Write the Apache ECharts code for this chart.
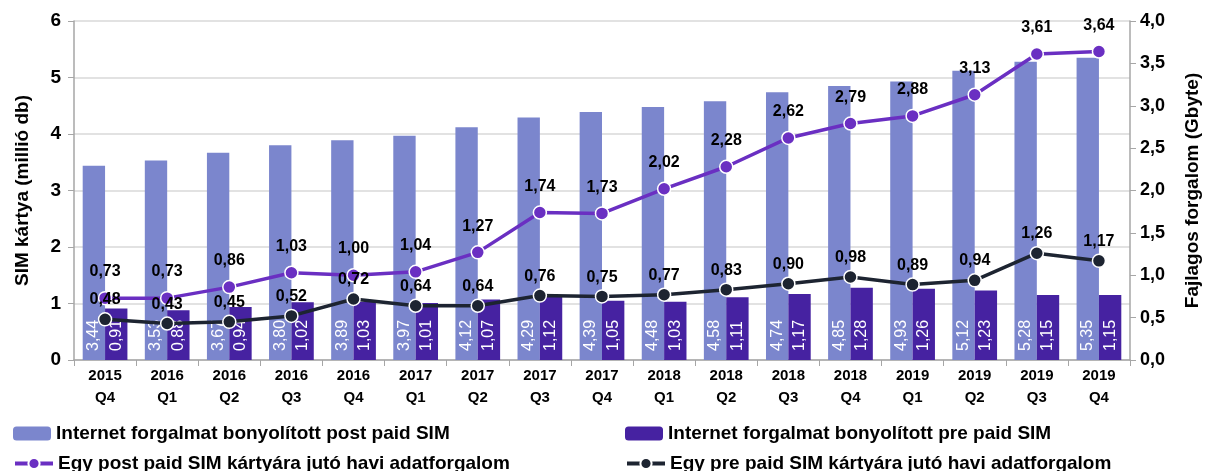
<!DOCTYPE html>
<html><head><meta charset="utf-8">
<script src="https://cdn.jsdelivr.net/npm/echarts@6/dist/echarts.min.js"></script>
<style>html,body{margin:0;padding:0;background:#fff}#c{width:1209px;height:471px}</style>
</head><body><div id="c"></div>
<script>
const categories = ['2015\nQ4','2016\nQ1','2016\nQ2','2016\nQ3','2016\nQ4','2017\nQ1','2017\nQ2','2017\nQ3','2017\nQ4','2018\nQ1','2018\nQ2','2018\nQ3','2018\nQ4','2019\nQ1','2019\nQ2','2019\nQ3','2019\nQ4'];
const postPaidSim = [3.44,3.53,3.67,3.80,3.89,3.97,4.12,4.29,4.39,4.48,4.58,4.74,4.85,4.93,5.12,5.28,5.35];
const prePaidSim = [0.91,0.88,0.94,1.02,1.03,1.01,1.07,1.12,1.05,1.03,1.11,1.17,1.28,1.26,1.23,1.15,1.15];
const postPaidTraffic = [0.73,0.73,0.86,1.03,1.00,1.04,1.27,1.74,1.73,2.02,2.28,2.62,2.79,2.88,3.13,3.61,3.64];
const prePaidTraffic = [0.48,0.43,0.45,0.52,0.72,0.64,0.64,0.76,0.75,0.77,0.83,0.90,0.98,0.89,0.94,1.26,1.17];
const leftTicks = [0,1,2,3,4,5,6];
const rightTicks = ['0,0','0,5','1,0','1,5','2,0','2,5','3,0','3,5','4,0'];

const FONT = 'Liberation Sans, Arial, sans-serif';
const C_POST_BAR = '#7b86cd', C_PRE_BAR = '#4622a1', C_POST_LINE = '#6a2fc2', C_PRE_LINE = '#1d2431';
const fmt2 = v => v.toFixed(2).replace('.', ',');
const legendText = {fontFamily: FONT, fontSize: 19, fontWeight: 'bold', color: '#000'};

const chart = echarts.init(document.getElementById('c'));
chart.setOption({
  animation: false,
  textStyle: {fontFamily: FONT},
  grid: {left: 74, right: 79, top: 21, bottom: 111, outerBoundsMode: 'none', containLabel: false},
  legend: [
    {data: ['Internet forgalmat bonyolított post paid SIM'], left: 8, top: 419, itemWidth: 38, itemHeight: 14, textStyle: legendText},
    {data: ['Internet forgalmat bonyolított pre paid SIM'], left: 620, top: 419, itemWidth: 38, itemHeight: 14, textStyle: legendText},
    {data: ['Egy post paid SIM kártyára jutó havi adatforgalom'], left: 8, top: 449, itemWidth: 38, itemHeight: 14, textStyle: legendText, lineStyle: {width: 4}},
    {data: ['Egy pre paid SIM kártyára jutó havi adatforgalom'], left: 620, top: 449, itemWidth: 38, itemHeight: 14, textStyle: legendText, lineStyle: {width: 4}}
  ],
  xAxis: {
    type: 'category', data: categories,
    axisLine: {lineStyle: {color: '#a6a6a6', width: 1.5}},
    axisTick: {show: true, length: 6, lineStyle: {color: '#a6a6a6'}},
    axisLabel: {color: '#000', fontFamily: FONT, fontSize: 15, fontWeight: 'bold', lineHeight: 22, margin: 5, interval: 0}
  },
  yAxis: [
    {
      type: 'value', min: 0, max: 6, interval: 1,
      name: 'SIM kártya (millió db)', nameLocation: 'middle', nameGap: 42, nameRotate: 90,
      nameTextStyle: {color: '#000', fontFamily: FONT, fontSize: 19, fontWeight: 'bold'},
      axisLine: {show: true, lineStyle: {color: '#a6a6a6', width: 1.5}},
      axisTick: {show: true, length: 6, lineStyle: {color: '#a6a6a6'}},
      splitLine: {lineStyle: {color: '#d9d9d9', width: 1.5}},
      axisLabel: {color: '#000', fontFamily: FONT, fontSize: 19, fontWeight: 'bold', margin: 13,
        formatter: v => String(leftTicks[Math.round(v)])}
    },
    {
      type: 'value', min: 0, max: 4, interval: 0.5, position: 'right',
      name: 'Fajlagos forgalom (Gbyte)', nameLocation: 'middle', nameGap: 53, nameRotate: 90,
      nameTextStyle: {color: '#000', fontFamily: FONT, fontSize: 19, fontWeight: 'bold'},
      axisLine: {show: true, lineStyle: {color: '#a6a6a6', width: 1.5}},
      axisTick: {show: true, length: 6, lineStyle: {color: '#a6a6a6'}},
      splitLine: {show: false},
      axisLabel: {color: '#000', fontFamily: FONT, fontSize: 18, fontWeight: 'bold', margin: 10,
        formatter: v => rightTicks[Math.round(v * 2)]}
    }
  ],
  series: [
    {
      name: 'Internet forgalmat bonyolított post paid SIM', type: 'bar', data: postPaidSim,
      barGap: '0%', barCategoryGap: '28%', itemStyle: {color: C_POST_BAR},
      label: {show: true, position: 'insideBottom', rotate: 90, align: 'left', verticalAlign: 'middle', distance: 9,
        color: '#fff', fontFamily: FONT, fontSize: 16, formatter: p => fmt2(p.value)}
    },
    {
      name: 'Internet forgalmat bonyolított pre paid SIM', type: 'bar', data: prePaidSim,
      itemStyle: {color: C_PRE_BAR},
      label: {show: true, position: 'insideBottom', rotate: 90, align: 'left', verticalAlign: 'middle', distance: 9,
        color: '#fff', fontFamily: FONT, fontSize: 16, formatter: p => fmt2(p.value)}
    },
    {
      name: 'Egy post paid SIM kártyára jutó havi adatforgalom', type: 'line', yAxisIndex: 1, data: postPaidTraffic,
      z: 5, symbol: 'circle', symbolSize: 13,
      lineStyle: {color: C_POST_LINE, width: 3.5},
      itemStyle: {color: C_POST_LINE, borderColor: '#fff', borderWidth: 1.5},
      label: {show: true, position: 'top', distance: 11, color: '#000', fontFamily: FONT, fontSize: 16, fontWeight: 'bold', formatter: p => fmt2(p.value)}
    },
    {
      name: 'Egy pre paid SIM kártyára jutó havi adatforgalom', type: 'line', yAxisIndex: 1, data: prePaidTraffic,
      z: 6, symbol: 'circle', symbolSize: 13,
      lineStyle: {color: C_PRE_LINE, width: 3.5},
      itemStyle: {color: C_PRE_LINE, borderColor: '#fff', borderWidth: 1.5},
      label: {show: true, position: 'top', distance: 4, color: '#000', fontFamily: FONT, fontSize: 16, fontWeight: 'bold', formatter: p => fmt2(p.value)}
    }
  ]
});
</script></body></html>
